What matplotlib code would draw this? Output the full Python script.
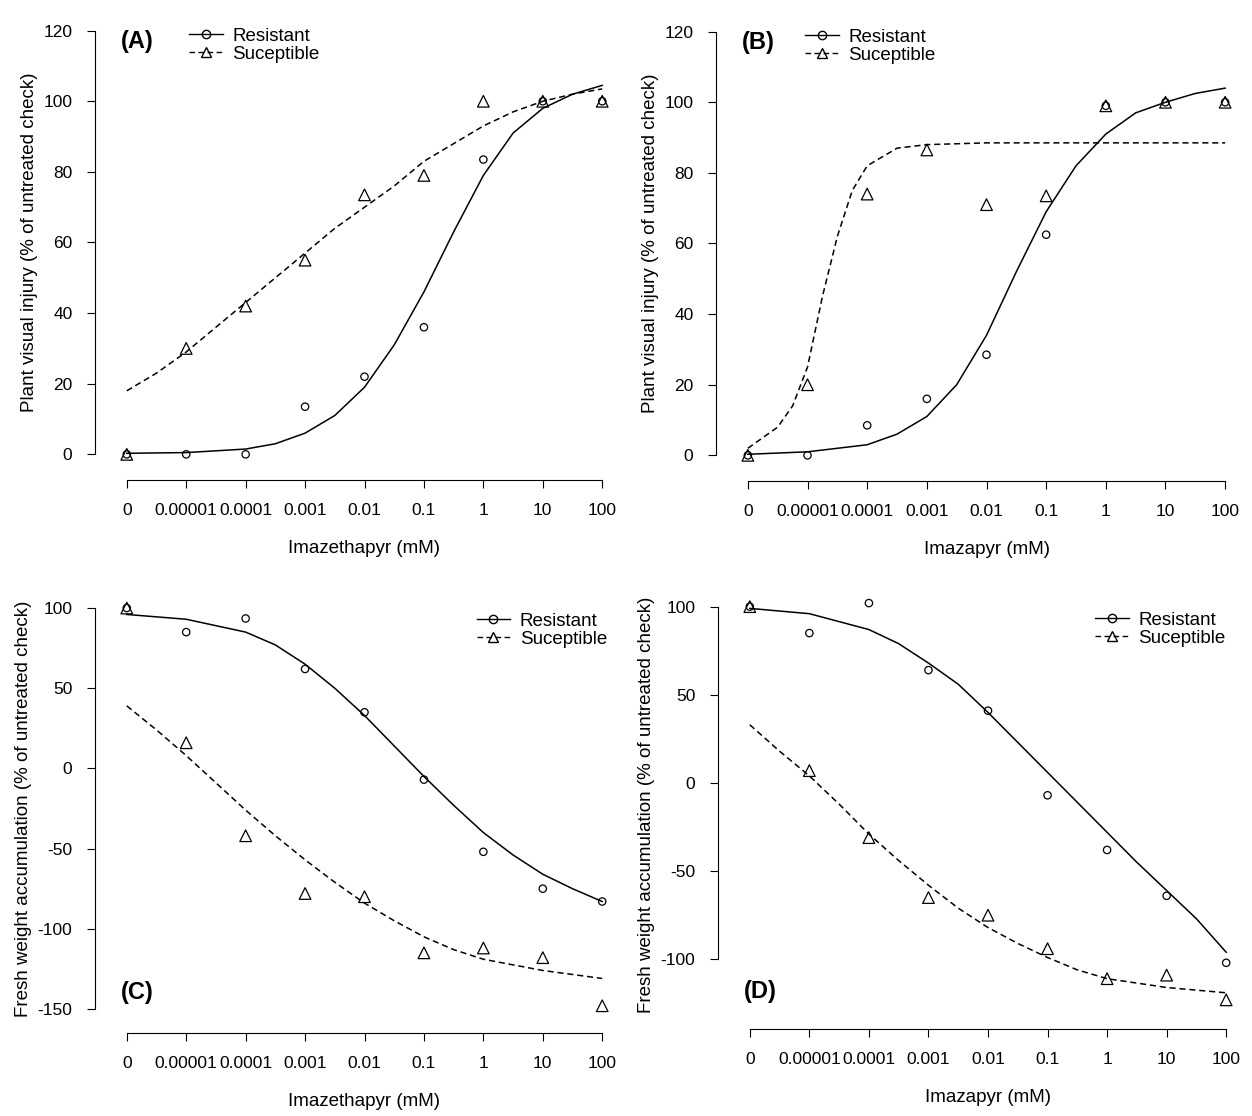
import numpy as np
import matplotlib
matplotlib.use("Agg")
import matplotlib.pyplot as plt
from matplotlib.lines import Line2D

plt.rcParams['font.family'] = ['Liberation Sans', 'DejaVu Sans']
plt.rcParams['axes.unicode_minus'] = False

dose_labels = ["0", "0.00001", "0.0001", "0.001", "0.01", "0.1", "1", "10", "100"]
dose_pos = np.arange(9)

# observed points
a_res = [0, 0, 0, 13.5, 22, 36, 83.5, 100, 100]
a_sus = [0, 30, 42, 55, 73.5, 79, 100, 100, 100]
b_res = [0, 0, 8.5, 16, 28.5, 62.5, 99, 100, 100]
b_sus = [0, 20, 74, 86.5, 71, 73.5, 99, 100, 100]
c_res = [100, 85, 93.5, 62, 35, -7, -52, -75, -83]
c_sus = [100, 16, -42, -78, -80, -115, -112, -118, -148]
d_res = [100, 85, 102, 64, 41, -7, -38, -64, -102]
d_sus = [100, 7, -31, -65, -75, -94, -111, -109, -123]

# fitted curves (x in dose-index units)
a_res_cx = [0, 1, 2, 2.5, 3, 3.5, 4, 4.5, 5, 5.5, 6, 6.5, 7, 7.5, 8]
a_res_cy = [0.3, 0.5, 1.5, 3, 6, 11, 19, 31, 46, 63, 79, 91, 98, 102, 104.5]
a_sus_cx = [0, 0.5, 1, 1.5, 2, 2.5, 3, 3.5, 4, 4.5, 5, 5.5, 6, 6.5, 7, 7.5, 8]
a_sus_cy = [18, 23, 29, 36, 43, 50, 57, 64, 70, 76, 83, 88, 93, 97, 100, 102, 103.5]
b_res_cx = [0, 1, 2, 2.5, 3, 3.5, 4, 4.5, 5, 5.5, 6, 6.5, 7, 7.5, 8]
b_res_cy = [0.3, 1, 3, 6, 11, 20, 34, 52, 69, 82, 91, 97, 100, 102.5, 104]
b_sus_cx = [0, 0.5, 0.75, 1, 1.25, 1.5, 1.75, 2, 2.5, 3, 4, 8]
b_sus_cy = [2, 8, 14, 25, 45, 62, 75, 82, 87, 88, 88.5, 88.5]
c_res_cx = [0, 1, 2, 2.5, 3, 3.5, 4, 4.5, 5, 5.5, 6, 6.5, 7, 7.5, 8]
c_res_cy = [96, 93, 85, 77, 65, 50, 33, 14, -5, -23, -40, -54, -66, -75, -83]
c_sus_cx = [0, 0.5, 1, 1.5, 2, 2.5, 3, 3.5, 4, 4.5, 5, 5.5, 6, 7, 8]
c_sus_cy = [39, 24, 8, -9, -26, -42, -57, -71, -84, -95, -105, -113, -119, -126, -131]
d_res_cx = [0, 1, 2, 2.5, 3, 3.5, 4, 4.5, 5, 5.5, 6, 6.5, 7, 7.5, 8]
d_res_cy = [99, 96, 87, 79, 68, 56, 40, 23, 6, -11, -28, -45, -61, -77, -96]
d_sus_cx = [0, 0.5, 1, 1.5, 2, 2.5, 3, 3.5, 4, 4.5, 5, 5.5, 6, 7, 8]
d_sus_cy = [33, 18, 4, -12, -29, -44, -58, -71, -82, -91, -99, -106, -111, -116, -119]

W, H = 1252, 1116
fig = plt.figure(figsize=(W / 100, H / 100), dpi=100)


def px_axes(l, r, t, b):
    return fig.add_axes([l / W, 1 - b / H, (r - l) / W, (b - t) / H])


panels = [
    dict(box=(103, 626, 13, 472), ylim=(-5, 125), yt=range(0, 121, 20),
         res=a_res, sus=a_sus, rc=(a_res_cx, a_res_cy), sc=(a_sus_cx, a_sus_cy),
         tag="(A)", tagy=117, xl="Imazethapyr (mM)",
         yl="Plant visual injury (% of untreated check)", leg=(0.15, 0.985)),
    dict(box=(724, 1249, 14, 473), ylim=(-5, 125), yt=range(0, 121, 20),
         res=b_res, sus=b_sus, rc=(b_res_cx, b_res_cy), sc=(b_sus_cx, b_sus_cy),
         tag="(B)", tagy=117, xl="Imazapyr (mM)",
         yl="Plant visual injury (% of untreated check)", leg=(0.14, 0.985)),
    dict(box=(103, 626, 592, 1025), ylim=(-160, 110), yt=range(-150, 101, 50),
         res=c_res, sus=c_sus, rc=(c_res_cx, c_res_cy), sc=(c_sus_cx, c_sus_cy),
         tag="(C)", tagy=-140, xl="Imazethapyr (mM)",
         yl="Fresh weight accumulation (% of untreated check)", leg=(0.70, 0.97)),
    dict(box=(726, 1250, 589, 1021), ylim=(-135, 110), yt=range(-100, 101, 50),
         res=d_res, sus=d_sus, rc=(d_res_cx, d_res_cy), sc=(d_sus_cx, d_sus_cy),
         tag="(D)", tagy=-118, xl="Imazapyr (mM)",
         yl="Fresh weight accumulation (% of untreated check)", leg=(0.69, 0.965)),
]

for p in panels:
    ax = px_axes(*p["box"])
    ax.plot(*p["rc"], color="black", lw=1.1)
    ax.plot(*p["sc"], color="black", lw=1.1, ls=(0, (4, 2.5)))
    ax.scatter(dose_pos, p["res"], s=28, facecolors="none", edgecolors="black", lw=0.9, marker="o")
    ax.scatter(dose_pos, p["sus"], s=70, facecolors="none", edgecolors="black", lw=0.9, marker="^")
    ax.set_xlim(-0.4, 8.4)
    ax.set_ylim(*p["ylim"])
    ax.set_xticks(dose_pos)
    ax.set_xticklabels(dose_labels, fontsize=12.5)
    ax.set_yticks(list(p["yt"]))
    ax.tick_params(labelsize=12.5, length=6, pad=10)
    ax.spines["top"].set_visible(False)
    ax.spines["right"].set_visible(False)
    ax.spines["left"].set_position(("outward", 6))
    ax.spines["bottom"].set_position(("outward", 6))
    ax.spines["left"].set_bounds(min(p["yt"]), max(p["yt"]))
    ax.spines["bottom"].set_bounds(0, 8)
    ax.set_xlabel(p["xl"], fontsize=13.5, labelpad=16)
    ax.set_ylabel(p["yl"], fontsize=13.5, labelpad=4)
    ax.patch.set_alpha(0)
    ax.text(-0.1, p["tagy"], p["tag"], fontsize=17, fontweight="bold", va="center")
    handles = [Line2D([], [], color="black", lw=1, marker="o", mfc="none", ms=6),
               Line2D([], [], color="black", lw=1, ls=(0, (4, 2.5)), marker="^", mfc="none", ms=7)]
    ax.legend(handles, ["Resistant", "Suceptible"], loc="upper left", bbox_to_anchor=p["leg"],
              frameon=False, fontsize=13.5, handlelength=1.8, handletextpad=0.5,
              labelspacing=0.05, borderaxespad=0)

fig.savefig("out.png", dpi=100)
